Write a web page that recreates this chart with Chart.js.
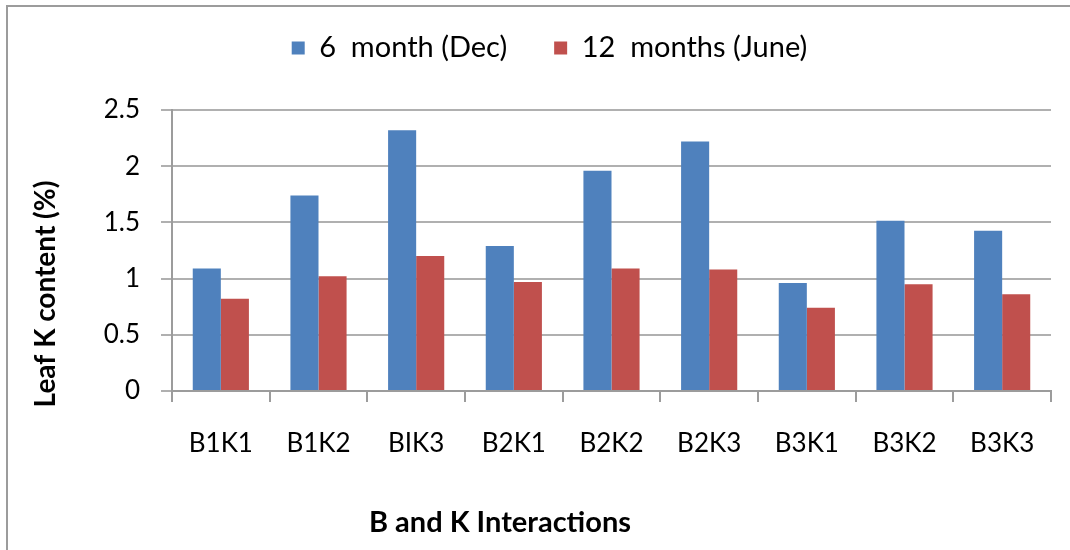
<!DOCTYPE html>
<html>
<head>
<meta charset="utf-8">
<script src="https://cdn.jsdelivr.net/npm/chart.js@4.4.1/dist/chart.umd.min.js"></script>
<style>
  html, body { margin: 0; padding: 0; background: #fff; }
  #wrap { position: relative; width: 1070px; height: 550px; overflow: hidden; }
  #frame { position: absolute; left: 6px; top: 5px; width: 1100px; height: 600px;
           border-top: 2px solid #9c9c9c; border-left: 2px solid #9c9c9c; pointer-events: none; }
  canvas { position: absolute; left: 0; top: 0; }
</style>
</head>
<body>
<div id="wrap">
  <canvas id="c" width="1070" height="550"></canvas>
  <div id="frame"></div>
</div>
<script>
const categories = ['B1K1', 'B1K2', 'BIK3', 'B2K1', 'B2K2', 'B2K3', 'B3K1', 'B3K2', 'B3K3'];
const seriesNames = ['6  month (Dec)', '12  months (June)'];
const decValues = [1.09, 1.74, 2.32, 1.29, 1.96, 2.22, 0.96, 1.515, 1.425];
const juneValues = [0.82, 1.02, 1.20, 0.97, 1.09, 1.08, 0.74, 0.95, 0.86];
const yTickValues = [0, 0.5, 1, 1.5, 2, 2.5];
const yTickLabels = ['0', '0.5', '1', '1.5', '2', '2.5'];
const xAxisTitle = 'B and K Interactions';
const yAxisTitle = 'Leaf K content (%)';

const FONT = 'Lato';
const FSIZE = 26;
const LEGEND_SIZE = 29;

const axisTitles = {
  id: 'axisTitles',
  afterDraw(chart) {
    const ctx = chart.ctx;
    const a = chart.chartArea;
    ctx.save();
    ctx.fillStyle = '#000';
    ctx.textAlign = 'center';
    ctx.textBaseline = 'middle';
    ctx.font = 'bold 29px ' + FONT;
    ctx.fillText(xAxisTitle, a.left + 328, 523);
    ctx.font = 'bold 28px ' + FONT;
    ctx.translate(46, a.top + 184);
    ctx.rotate(-Math.PI / 2);
    ctx.fillText(yAxisTitle, 0, 0);
    ctx.restore();
  }
};

const legendShift = {
  id: 'legendShift',
  afterLayout(chart) {
    const lg = chart.legend;
    const pad = lg.options.labels.padding;
    lg.top = 48 - LEGEND_SIZE / 2 - pad;
    lg.left += 20;
    lg.right += 20;
  }
};

new Chart(document.getElementById('c'), {
  type: 'bar',
  data: {
    labels: categories,
    datasets: [
      { label: seriesNames[0], data: decValues, backgroundColor: '#4f81bd' },
      { label: seriesNames[1], data: juneValues, backgroundColor: '#c0504d' }
    ]
  },
  options: {
    responsive: false,
    animation: false,
    devicePixelRatio: 1,
    categoryPercentage: 0.575,
    barPercentage: 1.0,
    layout: { padding: { top: 24, left: 8, right: 19, bottom: 0 } },
    plugins: {
      legend: {
        position: 'top',
        labels: {
          boxWidth: 13, boxHeight: 13, padding: 47,
          color: '#000',
          font: { family: FONT, size: LEGEND_SIZE }
        }
      },
      tooltip: { enabled: false }
    },
    scales: {
      x: {
        afterFit(s) { s.height = 159; },
        grid: { drawOnChartArea: false, drawTicks: true, tickLength: 11, color: '#9c9c9c', lineWidth: 2, offset: true },
        border: { display: true, color: '#9c9c9c', width: 2 },
        ticks: { color: '#000', padding: 26, font: { family: FONT, size: FSIZE }, maxRotation: 0 }
      },
      y: {
        min: yTickValues[0], max: yTickValues[yTickValues.length - 1],
        afterFit(s) { s.width = 164; },
        afterBuildTicks(s) { s.ticks = yTickValues.map(v => ({ value: v })); },
        grid: { color: '#b0b0b0', lineWidth: 2, tickLength: 11, drawTicks: true },
        border: { display: true, color: '#9c9c9c', width: 2 },
        ticks: {
          color: '#000', padding: 21, font: { family: FONT, size: FSIZE },
          callback: (v) => yTickLabels[yTickValues.indexOf(v)]
        }
      }
    }
  },
  plugins: [axisTitles, legendShift]
});
</script>
</body>
</html>
